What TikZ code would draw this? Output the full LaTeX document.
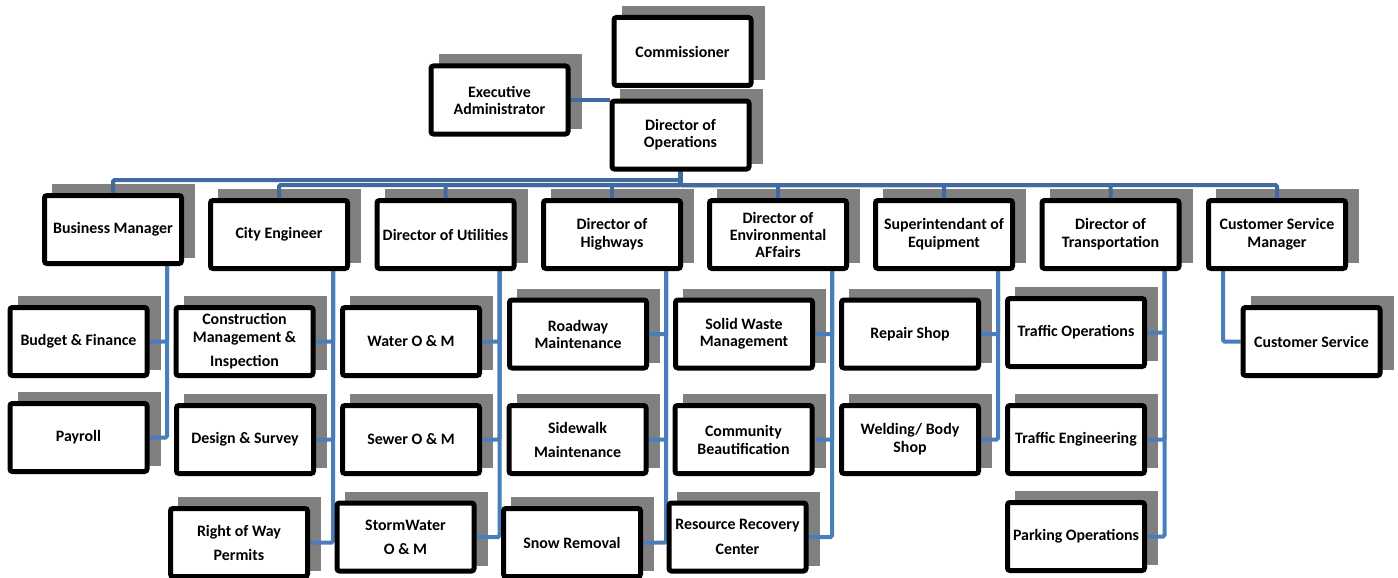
\documentclass[tikz,border=0pt]{standalone}
\usepackage{fontspec}
\newfontfamily\calfont{Carlito}
\definecolor{shadowgray}{RGB}{128,128,128}
\definecolor{linea}{RGB}{66,106,158}
\definecolor{lineb}{RGB}{74,126,187}
\pgfdeclarelayer{shadowl}
\pgfdeclarelayer{linel}
\pgfsetlayers{shadowl,linel,main}
\tikzset{
  ob/.style={draw=black, line width=5pt, rounded corners=2.5pt, fill=white,
    minimum width=137pt, minimum height=68pt, inner sep=0pt, align=center,
    font=\calfont\bfseries\fontsize{15.9}{17}\selectfont},
  bus/.style={draw=linea, line width=4pt, rounded corners=1.5pt},
  conn/.style={draw=lineb, line width=4pt, rounded corners=1.5pt}
}
\newcommand\obox[4]{%
  \begin{pgfonlayer}{shadowl}
  \fill[shadowgray] ({#2-61},{#3-45.5}) rectangle ({#2+82},{#3+28.5});
  \end{pgfonlayer}
  \node[ob] (#1) at (#2,#3) {#4};
}
\begin{document}
\begin{tikzpicture}[x=1pt,y=-1pt]
\useasboundingbox (0,0) rectangle (1398,578);
% level 1
\obox{com}{682.5}{51.5}{Commissioner}
\obox{exe}{499.5}{100}{Executive\\Administrator}
\obox{dop}{680.5}{135}{Director of\\Operations}
% level 2
\obox{bm}{113}{229.5}{Business Manager}
\obox{ce}{279}{234.5}{City Engineer}
\obox{du}{445.5}{234.5}{Director of Utilities}
\obox{dh}{612}{234.5}{Director of\\[1pt]Highways}
\obox{de}{778}{234.5}{Director of\\Environmental\\AFfairs}
\obox{se}{944}{234.5}{Superintendant of\\[1pt]Equipment}
\obox{dt}{1110.5}{234.5}{Director of\\[1pt]Transportation}
\obox{csm}{1277}{234.5}{Customer Service\\[1pt]Manager}
% level 3
\obox{bf}{78.5}{341.5}{Budget \& Finance}
\obox{pay}{78.5}{437.5}{Payroll}
\obox{cmi}{244.5}{341.5}{Construction\\[1pt]Management \&\\[7pt]Inspection}
\obox{ds}{245}{439.5}{Design \& Survey}
\obox{row}{239}{542.5}{Right of Way\\[7pt]Permits}
\obox{wat}{411}{341.5}{Water O \& M}
\obox{sew}{411}{439.5}{Sewer O \& M}
\obox{sto}{405.5}{537}{StormWater\\[7pt]O \& M}
\obox{rm}{578}{334}{Roadway\\Maintenance}
\obox{sm}{577.5}{439.5}{Sidewalk\\[7pt]Maintenance}
\obox{sr}{572}{542.5}{Snow Removal}
\obox{sw}{744}{334}{Solid Waste\\Management}
\obox{cb}{743.5}{439.5}{Community\\[1pt]Beautification}
\obox{rrc}{737.5}{537}{Resource Recovery\\[8pt]Center}
\obox{rs}{910}{334}{Repair Shop}
\obox{wb}{910}{439.5}{Welding/ Body\\[1pt]Shop}
\obox{to}{1076}{332.5}{Traffic Operations}
\obox{te}{1076}{439.5}{Traffic Engineering}
\obox{po}{1076}{536.5}{Parking Operations}
\obox{cs}{1311.5}{341.5}{Customer Service}
% connectors
\begin{pgfonlayer}{linel}
\coordinate (ya) at (0,180);
\coordinate (yb) at (0,185);
\draw[bus] (exe.east) -- (exe.east -| dop.west);
\draw[bus] (dop.south) -- (dop.south |- ya) -| (bm.north);
\foreach \n in {ce,du,dh,de,se,dt,csm}
  \draw[bus] (dop.south) -- (dop.south |- yb) -| (\n.north);
\foreach \p/\c in {bm/bf,bm/pay,ce/cmi,ce/ds,ce/row,du/wat,du/sew,du/sto,
  dh/rm,dh/sm,dh/sr,de/sw,de/cb,de/rrc,se/rs,se/wb,dt/to,dt/te,dt/po}
  \draw[conn] ([xshift=54pt]\p.south) |- (\c.east);
\draw[conn] ([xshift=-54pt]csm.south) |- (cs.west);
\end{pgfonlayer}
\end{tikzpicture}
\end{document}
